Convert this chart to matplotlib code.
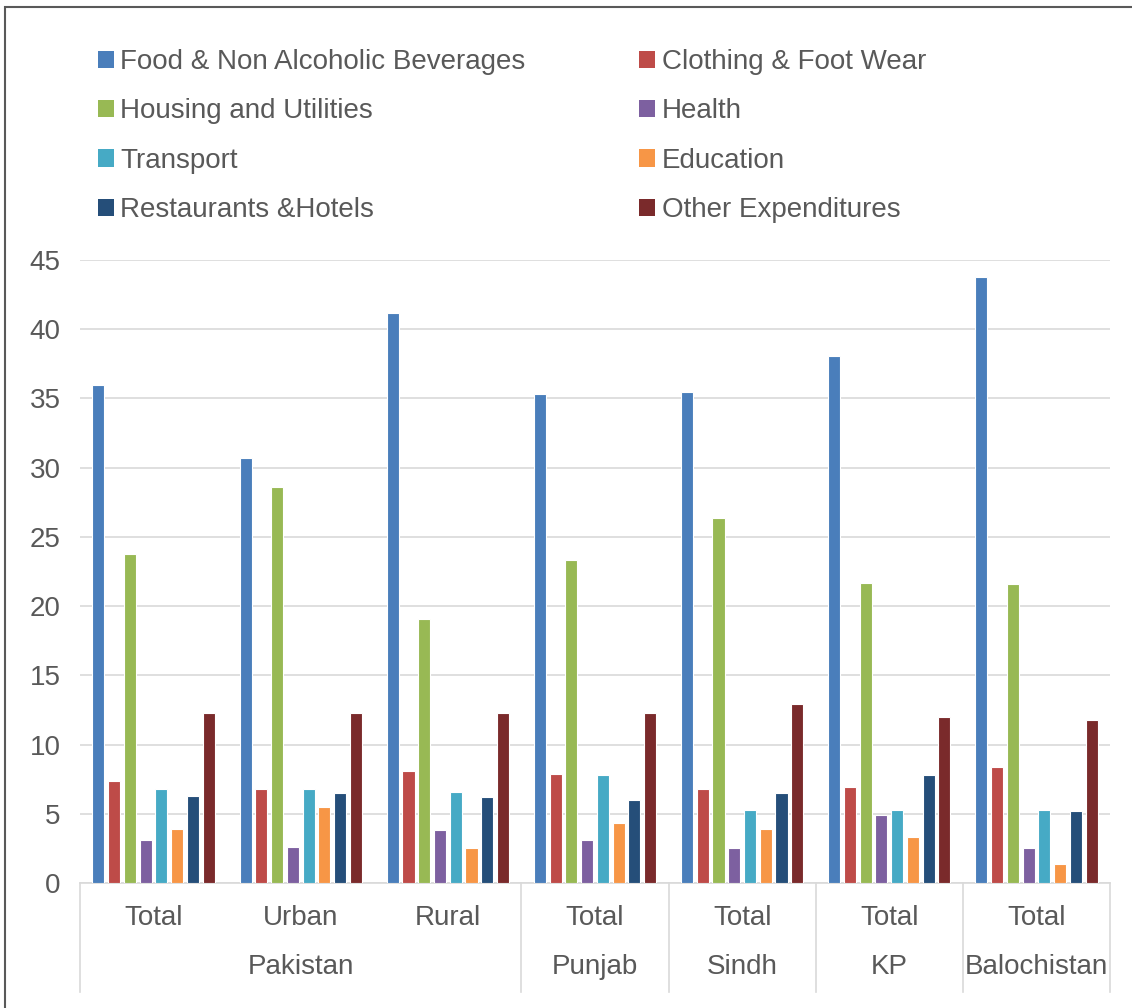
import numpy as np
import matplotlib.pyplot as plt
from matplotlib.patches import Patch, Rectangle
from matplotlib.transforms import blended_transform_factory

plt.rcParams['font.family'] = ['Liberation Sans', 'DejaVu Sans']

# Данные
inner_labels = ['Total', 'Urban', 'Rural', 'Total', 'Total', 'Total', 'Total']
outer_labels = ['Pakistan', 'Punjab', 'Sindh', 'KP', 'Balochistan']
outer_sizes = [3, 1, 1, 1, 1]

series = ['Food & Non Alcoholic Beverages', 'Clothing & Foot Wear',
          'Housing and Utilities', 'Health', 'Transport', 'Education',
          'Restaurants &Hotels', 'Other Expenditures']
colors = ['#4A7EBB', '#BE4B48', '#98B954', '#7D60A0',
          '#46AAC5', '#F79646', '#254E79', '#7A2A2B']

food = [36.0, 30.7, 41.2, 35.3, 35.5, 38.1, 43.8]
clothing = [7.4, 6.8, 8.1, 7.9, 6.8, 6.9, 8.4]
housing = [23.8, 28.6, 19.1, 23.3, 26.4, 21.7, 21.6]
health = [3.1, 2.6, 3.8, 3.1, 2.5, 4.9, 2.5]
transport = [6.8, 6.8, 6.6, 7.8, 5.3, 5.3, 5.3]
education = [3.9, 5.5, 2.5, 4.3, 3.9, 3.3, 1.4]
restaurants = [6.3, 6.5, 6.2, 6.0, 6.5, 7.8, 5.2]
other = [12.3, 12.3, 12.3, 12.3, 12.9, 12.0, 11.8]
values = [food, clothing, housing, health, transport, education, restaurants, other]

txt = '#595959'
fs = 20
fig = plt.figure(figsize=(11.32, 10.08), dpi=100)
ax = fig.add_axes([80 / 1132, 1 - 883 / 1008, 1030 / 1132, 623 / 1008])

x = np.arange(len(inner_labels))
step = 0.107
width = 0.082
for i, (vals, c) in enumerate(zip(values, colors)):
    ax.bar(x + (i - 3.5) * step, vals, width, color=c, edgecolor='white',
           linewidth=0.8, zorder=3)

ax.set_xlim(-0.5, len(inner_labels) - 0.5)
ax.set_ylim(0, 45)
ax.set_yticks(range(0, 46, 5))
ax.tick_params(axis='y', length=0, labelsize=fs, colors=txt, pad=14)
ax.tick_params(axis='x', length=0, labelsize=fs, colors=txt, pad=15.5)
ax.set_xticks(x)
ax.set_xticklabels(inner_labels)
ax.grid(axis='y', color='#D9D9D9', linewidth=1.2, zorder=0)
for s in ['left', 'right', 'top']:
    ax.spines[s].set_visible(False)
ax.spines['bottom'].set_color('#D9D9D9')
ax.spines['bottom'].set_linewidth(1.2)

# Внешние подписи и разделители
tr = blended_transform_factory(ax.transData, ax.transAxes)
start = -0.5
bounds = [start]
for lab, n in zip(outer_labels, outer_sizes):
    ax.text(start + n / 2, -0.135, lab, transform=tr, ha='center', va='center',
            fontsize=fs, color=txt)
    start += n
    bounds.append(start)
for b in bounds:
    ax.plot([b, b], [0, -0.175], transform=tr, color='#D9D9D9',
            linewidth=1.2, clip_on=False)

# Легенда
order = [0, 2, 4, 6, 1, 3, 5, 7]
handles = [Patch(facecolor=colors[i], label=series[i]) for i in order]
fig.legend(handles=handles, ncol=2, loc='upper left',
           bbox_to_anchor=(98 / 1132, 1 - 49 / 1008), frameon=False,
           borderpad=0, borderaxespad=0,
           fontsize=fs, labelcolor=txt, handlelength=0.58, handleheight=0.58,
           handletextpad=0.22, labelspacing=0.84, columnspacing=4.1)

fig.patches.append(Rectangle((5 / 1132, -0.01), 1.1, 1 - 7 / 1008 + 0.01,
                             transform=fig.transFigure, fill=False,
                             edgecolor='#595959', linewidth=1.5))

fig.savefig('out.png', dpi=100)
